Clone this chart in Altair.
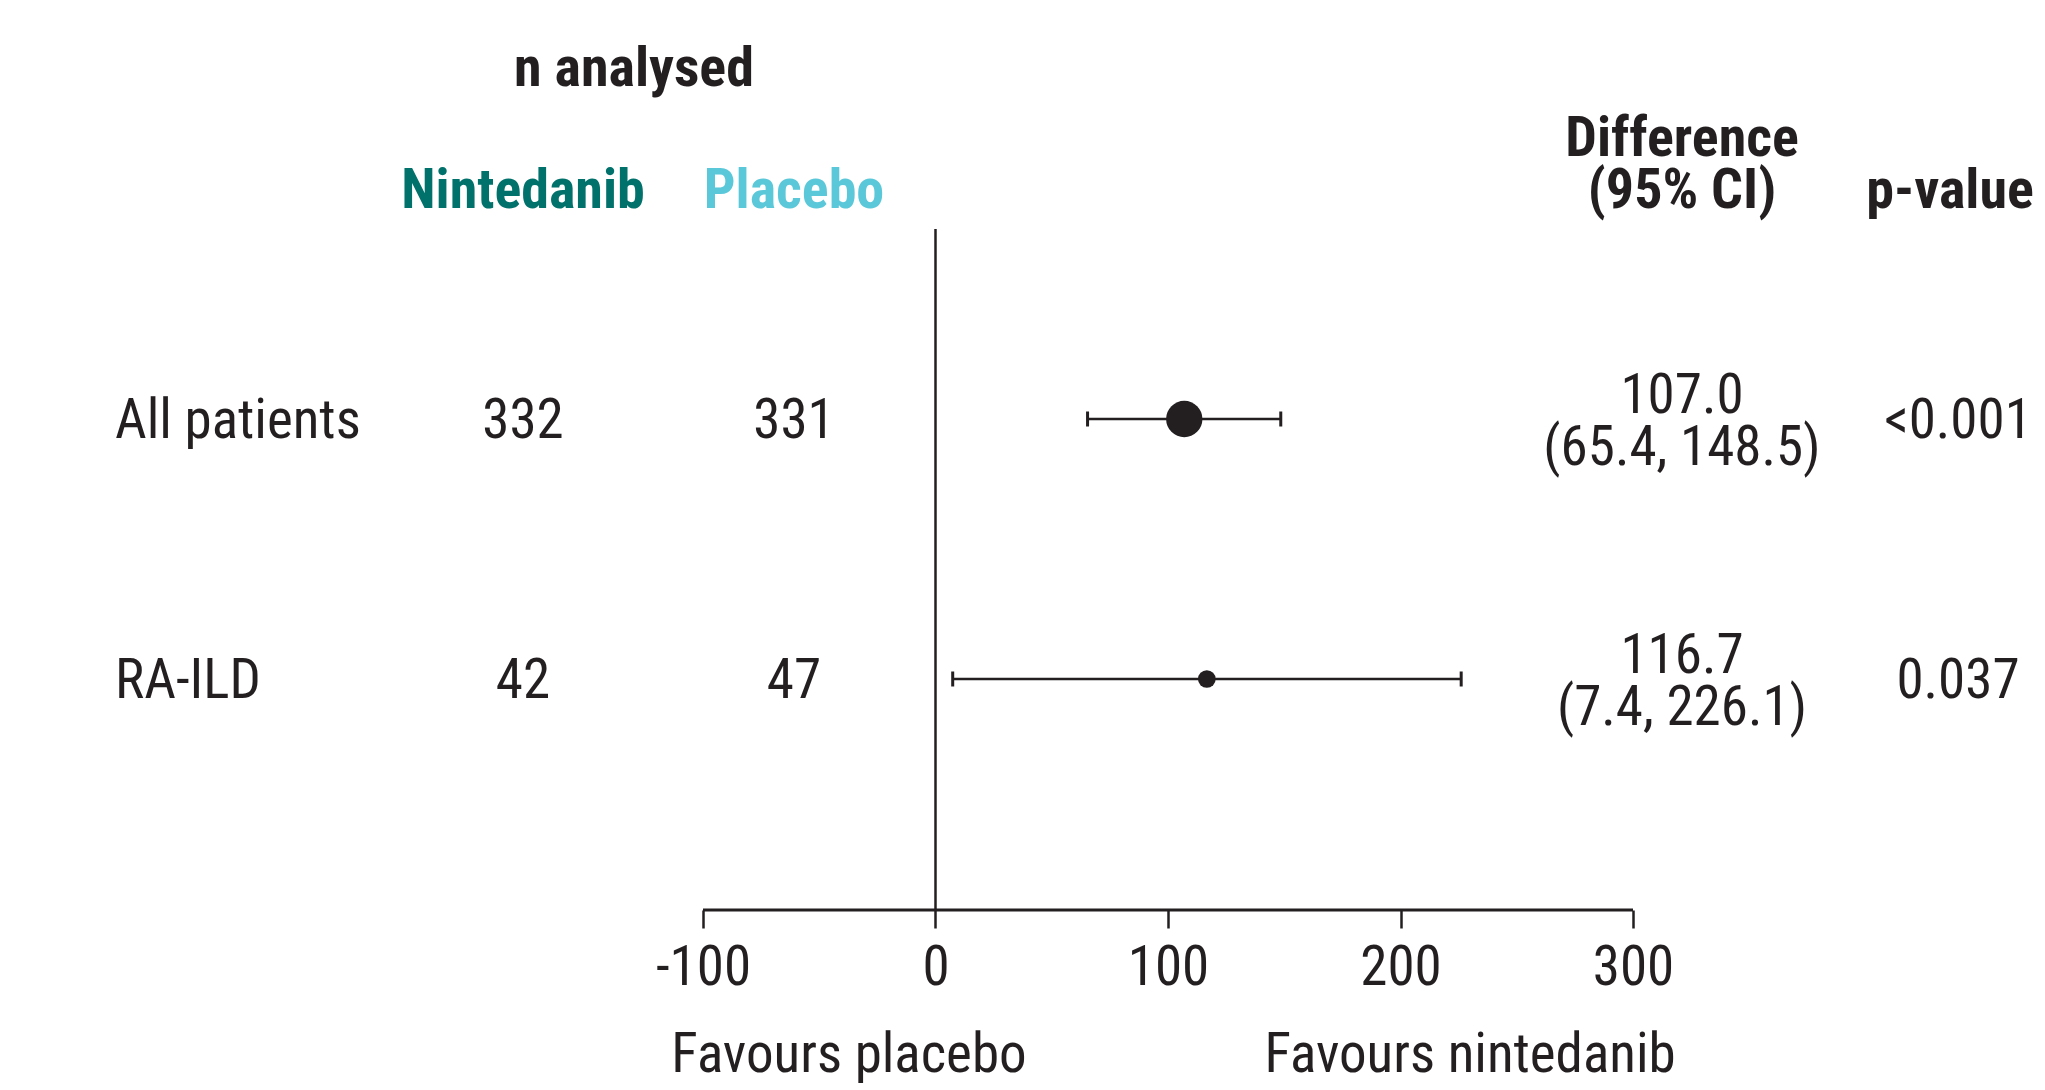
import altair as alt
import pandas as pd

# ---- data ----
groups = ["All patients", "RA-ILD"]
row_pos = [1, 2]
n_nintedanib = ["332", "42"]
n_placebo = ["331", "47"]
diff = [107.0, 116.7]
ci_low = [65.4, 7.4]
ci_high = [148.5, 226.1]
p_values = ["<0.001", "0.037"]
tick_values = [-100, 0, 100, 200, 300]

# ---- layout / style ----
W, H = 2029, 902
X_DOMAIN = [-398.92, 473.76]
Y_DOMAIN = [-0.5808, 2.8885]
FONT = "Roboto Condensed, DejaVu Sans Condensed, sans-serif"
INK = "#231F20"
TEAL = "#00716B"
CYAN = "#5BC8DA"
FS = 55
HFS = 56
LH = 52
point_sizes = [1320, 314]

df = pd.DataFrame({
    "group": groups,
    "row": row_pos,
    "n_nin": n_nintedanib,
    "n_pla": n_placebo,
    "diff": diff,
    "lo": ci_low,
    "hi": ci_high,
    "p": p_values,
    "size": point_sizes,
})
df["diff_txt"] = [f"{d:.1f}\n({l}, {h})" for d, l, h in zip(diff, ci_low, ci_high)]

xscale = alt.Scale(domain=X_DOMAIN, nice=False, zero=False)
yscale = alt.Scale(domain=Y_DOMAIN, reverse=True, nice=False, zero=False)
xaxis = alt.Axis(values=tick_values, domain=False, grid=False, tickSize=18,
                 tickWidth=2.5, tickColor=INK, labelFont=FONT, labelFontSize=FS,
                 labelColor=INK, labelPadding=13, title=None, labelFlush=False,
                 labelExpr="'' + datum.value")

def X(field):
    return alt.X(field, type="quantitative", scale=xscale, axis=xaxis)

def Y(field):
    return alt.Y(field, type="quantitative", scale=yscale, axis=None)

base = alt.Chart(df)

# zero line
zero = alt.Chart(pd.DataFrame({"x": [0], "y": [0.269], "y2": [Y_DOMAIN[1]]})).mark_rule(
    color=INK, strokeWidth=2.5).encode(x=X("x"), y=Y("y"), y2="y2")

# axis baseline
baseline = alt.Chart(pd.DataFrame({"x": [tick_values[0]], "x2": [tick_values[-1]], "y": [Y_DOMAIN[1]]})).mark_rule(
    color=INK, strokeWidth=3).encode(x=X("x"), x2="x2", y=Y("y"))

ci = base.mark_rule(color=INK, strokeWidth=2.5).encode(x=X("lo"), x2="hi", y=Y("row"))
cap_lo = base.mark_rule(color=INK, strokeWidth=3, yOffset=-7.5, y2Offset=7.5).encode(
    x=X("lo"), y=Y("row"), y2="row")
cap_hi = base.mark_rule(color=INK, strokeWidth=3, yOffset=-7.5, y2Offset=7.5).encode(
    x=X("hi"), y=Y("row"), y2="row")
pts = base.mark_circle(color=INK, opacity=1).encode(
    x=X("diff"), y=Y("row"), size=alt.Size("size:Q", scale=None))

def coltext(field, xpix, align="center", dy=2):
    return base.mark_text(font=FONT, fontSize=FS, color=INK, align=align,
                          baseline="middle", dy=dy, lineBreak="\n",
                          lineHeight=LH).encode(
        x=alt.value(xpix), y=Y("row"), text=f"{field}:N")

t_group = coltext("group", 107, align="left")
t_nin = coltext("n_nin", 515)
t_pla = coltext("n_pla", 786)
t_diff = coltext("diff_txt", 1674, dy=-23)
t_p = coltext("p", 1950)

headers = pd.DataFrame({
    "label": ["n analysed", "Nintedanib", "Placebo", "Difference\n(95% CI)", "p-value"],
    "px": [626, 515, 786, 1674, 1942],
    "py": [61, 183, 183, 131, 183],
    "col": [INK, TEAL, CYAN, INK, INK],
})
t_head = alt.Chart(headers).mark_text(font=FONT, fontSize=HFS, fontWeight="bold",
                                      align="center", baseline="middle",
                                      lineBreak="\n", lineHeight=LH).encode(
    x=alt.X("px:Q", scale=None), y=alt.Y("py:Q", scale=None),
    text="label:N", color=alt.Color("col:N", scale=None))

favours = pd.DataFrame({"label": ["Favours placebo", "Favours nintedanib"],
                        "x": [-37.2, 229.9], "y": [3.445, 3.445]})
t_fav = alt.Chart(favours).mark_text(font=FONT, fontSize=FS, color=INK,
                                     align="center", baseline="middle").encode(
    x=X("x"), y=Y("y"), text="label:N")

chart = alt.layer(zero, baseline, ci, cap_lo, cap_hi, pts,
                  t_group, t_nin, t_pla, t_diff, t_p, t_fav, t_head).properties(
    width=W, height=H,
    autosize=alt.AutoSizeParams(type="none"),
    padding={"left": 0, "top": 0, "right": 0, "bottom": 174},
).configure_view(stroke=None)

chart.save("out.html", embed_options={"renderer": "svg", "actions": False})
